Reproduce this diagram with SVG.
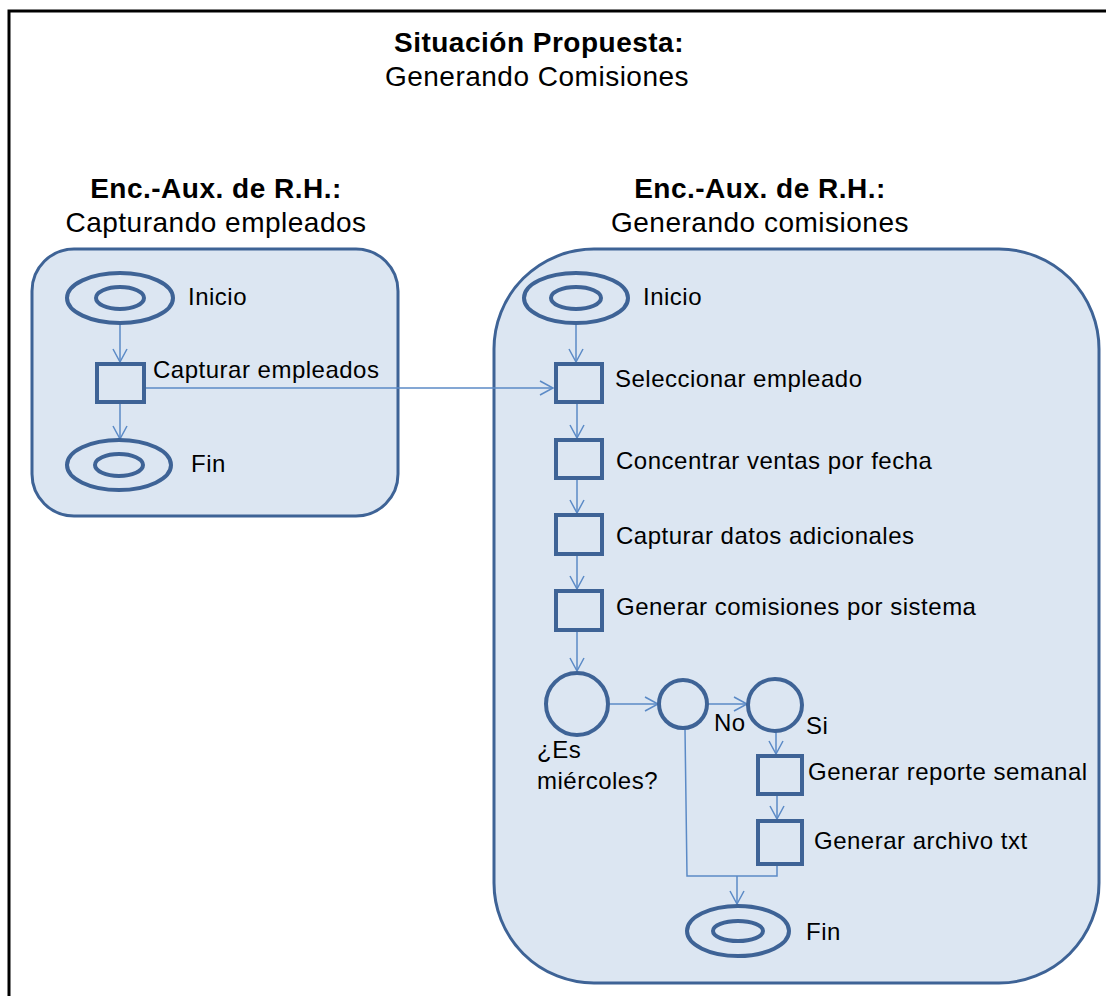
<svg xmlns="http://www.w3.org/2000/svg" width="1106" height="996" viewBox="0 0 1106 996">
<defs>
<style>
.t{font-family:"Liberation Sans",Arial,sans-serif;fill:#000}
.h{font-size:28px;text-anchor:middle;letter-spacing:0.5px}
.b{font-weight:bold}
.l{font-size:24px;letter-spacing:0.5px}
.cont{fill:#dce6f2;stroke:#3e6396;stroke-width:3}
.shp{fill:#dce6f2;stroke:#3e6396;stroke-width:4}
.c{fill:none;stroke:#5b8ac6;stroke-width:1.5}
</style>
<marker id="ah" markerUnits="userSpaceOnUse" markerWidth="16" markerHeight="16" viewBox="0 0 16 16" refX="14" refY="8" orient="auto">
<path d="M1,1 L14,8 L1,15" fill="none" stroke="#5b8ac6" stroke-width="1.5"/>
</marker>
</defs>
<rect x="0" y="0" width="1106" height="996" fill="#fff"/>
<path d="M9,996 V11 H1106" fill="none" stroke="#000" stroke-width="3"/>
<g id="title">
<text class="t h b" x="539" y="52">Situación Propuesta:</text>
<text class="t h" x="537" y="86">Generando Comisiones</text>
</g>
<g id="lane-left">
<text class="t h b" x="216" y="198">Enc.-Aux. de R.H.:</text>
<text class="t h" x="216" y="232">Capturando empleados</text>
<rect class="cont" x="32" y="249" width="366" height="267" rx="42" ry="42"/>
</g>
<g id="lane-right">
<text class="t h b" x="760" y="198">Enc.-Aux. de R.H.:</text>
<text class="t h" x="760" y="232">Generando comisiones</text>
<rect class="cont" x="494" y="249" width="605" height="734" rx="100" ry="100"/>
</g>
<g id="connectors">
<line class="c" x1="120" y1="324" x2="120" y2="362" marker-end="url(#ah)"/>
<line class="c" x1="120" y1="403" x2="120" y2="439" marker-end="url(#ah)"/>
<line class="c" x1="146" y1="388" x2="553" y2="388" marker-end="url(#ah)"/>
<line class="c" x1="576" y1="323" x2="576" y2="362" marker-end="url(#ah)"/>
<line class="c" x1="577" y1="404" x2="577" y2="438" marker-end="url(#ah)"/>
<line class="c" x1="577" y1="480" x2="577" y2="513" marker-end="url(#ah)"/>
<line class="c" x1="577" y1="556" x2="577" y2="589" marker-end="url(#ah)"/>
<line class="c" x1="577" y1="632" x2="577" y2="671" marker-end="url(#ah)"/>
<line class="c" x1="610" y1="704" x2="658" y2="704" marker-end="url(#ah)"/>
<line class="c" x1="708" y1="704" x2="747" y2="704" marker-end="url(#ah)"/>
<line class="c" x1="776" y1="732" x2="776" y2="754" marker-end="url(#ah)"/>
<line class="c" x1="777" y1="796" x2="777" y2="819" marker-end="url(#ah)"/>
<path class="c" d="M685,729 L687,876 H777 V866"/>
<line class="c" x1="737" y1="876" x2="737" y2="904" marker-end="url(#ah)"/>
</g>
<g id="inicio-left">
<ellipse class="shp" cx="120" cy="298" rx="53" ry="25" stroke-width="3.5"/>
<ellipse class="shp" cx="120" cy="298" rx="24" ry="11" stroke-width="3.5"/>
<text class="t l" x="188" y="305">Inicio</text>
</g>
<g id="capturar-empleados">
<rect class="shp" x="97" y="364" width="47" height="38"/>
<text class="t l" x="153" y="378">Capturar empleados</text>
</g>
<g id="fin-left">
<ellipse class="shp" cx="119" cy="465" rx="52" ry="25" stroke-width="3.5"/>
<ellipse class="shp" cx="119" cy="465" rx="24" ry="11" stroke-width="3.5"/>
<text class="t l" x="191" y="472">Fin</text>
</g>
<g id="inicio-right">
<ellipse class="shp" cx="576" cy="298" rx="52" ry="25" stroke-width="3.5"/>
<ellipse class="shp" cx="576" cy="298" rx="25" ry="11" stroke-width="3.5"/>
<text class="t l" x="643" y="305">Inicio</text>
</g>
<g id="seleccionar">
<rect class="shp" x="556" y="364" width="46" height="38"/>
<text class="t l" x="615" y="387">Seleccionar empleado</text>
</g>
<g id="concentrar">
<rect class="shp" x="556" y="440" width="46" height="38"/>
<text class="t l" x="616" y="469">Concentrar ventas por fecha</text>
</g>
<g id="capturar-datos">
<rect class="shp" x="556" y="515" width="46" height="39"/>
<text class="t l" x="616" y="544">Capturar datos adicionales</text>
</g>
<g id="generar-comisiones">
<rect class="shp" x="556" y="591" width="46" height="39"/>
<text class="t l" x="616" y="615">Generar comisiones por sistema</text>
</g>
<g id="decision">
<circle class="shp" cx="577" cy="704" r="31" stroke-width="3.5"/>
<text class="t l" x="537" y="758">¿Es</text>
<text class="t l" x="537" y="789">miércoles?</text>
</g>
<g id="no">
<circle class="shp" cx="683" cy="704" r="24" stroke-width="3.5"/>
<text class="t l" x="714" y="731">No</text>
</g>
<g id="si">
<ellipse class="shp" cx="775" cy="705" rx="27" ry="26" stroke-width="3.5"/>
<text class="t l" x="806" y="734">Si</text>
</g>
<g id="reporte">
<rect class="shp" x="758" y="756" width="44" height="38"/>
<text class="t l" x="808" y="780">Generar reporte semanal</text>
</g>
<g id="archivo">
<rect class="shp" x="758" y="821" width="44" height="43"/>
<text class="t l" x="814" y="849">Generar archivo txt</text>
</g>
<g id="fin-right">
<ellipse class="shp" cx="738" cy="931" rx="51" ry="25" stroke-width="3.5"/>
<ellipse class="shp" cx="738" cy="931" rx="25" ry="10" stroke-width="3.5"/>
<text class="t l" x="806" y="940">Fin</text>
</g>
</svg>
